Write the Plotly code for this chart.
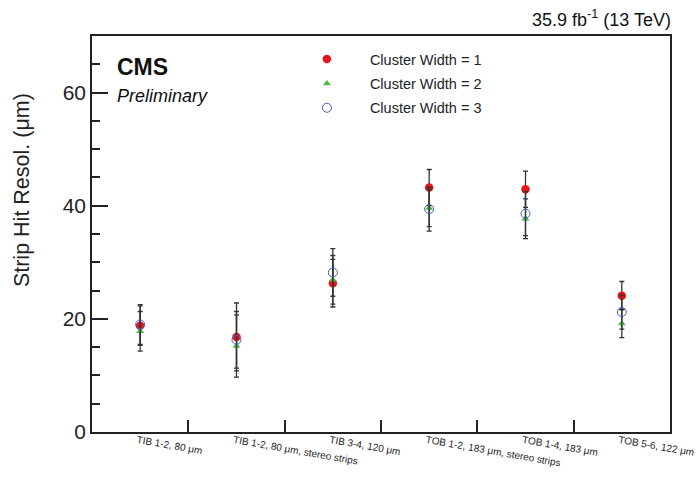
import plotly.graph_objects as go

categories = ["TIB 1-2, 80 μm", "TIB 1-2, 80 μm, stereo strips", "TIB 3-4, 120 μm",
              "TOB 1-2, 183 μm, stereo strips", "TOB 1-4, 183 μm", "TOB 5-6, 122 μm"]

cw1 = [18.8, 16.8, 26.3, 43.2, 42.9, 24.1]
cw1_err = [3.5, 6.0, 4.2, 3.2, 3.2, 2.5]
cw2 = [17.8, 15.2, 26.9, 39.6, 37.7, 19.2]
cw2_err = [3.5, 5.5, 4.3, 3.3, 3.5, 2.5]
cw3 = [19.0, 16.3, 28.2, 39.4, 38.6, 21.2]
cw3_err = [3.5, 5.0, 4.2, 3.9, 3.9, 3.0]

names = ["Cluster Width = 1", "Cluster Width = 2", "Cluster Width = 3"]

FONT = "Liberation Sans, Arial, Helvetica, sans-serif"
xs = list(range(len(categories)))

fig = go.Figure()
styles = [
    dict(symbol="circle", size=8.5, color="#e8141c", line=dict(width=0)),
    dict(symbol="triangle-up", size=7, color="#4cb847", line=dict(width=0)),
    dict(symbol="circle-open", size=9, color="#3d5fc2", line=dict(width=1, color="#3d5fc2")),
]
for i, (vals, errs, nm) in enumerate(zip([cw1, cw2, cw3], [cw1_err, cw2_err, cw3_err], names)):
    fig.add_trace(go.Scatter(
        x=xs, y=vals, mode="markers", name=nm, legendgroup=f"g{i}",
        marker=styles[i],
        error_y=dict(type="data", array=errs, visible=True, color="#333333",
                     thickness=1.3, width=2.5),
    ))

fig.update_layout(
    width=696, height=493,
    margin=dict(l=92, r=26, t=36, b=61, autoexpand=False),
    paper_bgcolor="white", plot_bgcolor="white",
    font=dict(family=FONT, color="#222222"),
    showlegend=True,
    legend=dict(x=0.332, y=0.982, xanchor="left", yanchor="top",
                font=dict(size=14.5, family=FONT, color="#222222"),
                bgcolor="rgba(0,0,0,0)", itemwidth=76, tracegroupgap=2.5),
)

fig.update_xaxes(
    range=[-0.5, 5.5], tickmode="array", tickvals=xs, ticktext=categories,
    tickangle=10, tickfont=dict(size=10, family=FONT, color="#222222"),
    ticklabeloverflow="allow", ticklabelshift=-3, ticklabelstandoff=-3,
    showline=True, linecolor="#222222", linewidth=1.5, mirror=True,
    ticks="", showgrid=False, zeroline=False, automargin=False,
)
# second x axis for bin-boundary ticks
fig.update_layout(xaxis2=dict(
    overlaying="x", range=[-0.5, 5.5], side="bottom",
    tickmode="array", tickvals=[0.5, 1.5, 2.5, 3.5, 4.5], showticklabels=False,
    ticks="inside", ticklen=12, tickwidth=1.5, tickcolor="#222222",
    showline=False, showgrid=False, zeroline=False, anchor="y", automargin=False,
))
fig.add_trace(go.Scatter(x=[0], y=[-10], xaxis="x2", mode="markers", showlegend=False,
                         hoverinfo="skip", marker=dict(opacity=0)))

fig.update_yaxes(
    range=[0, 70], tickmode="array", tickvals=[0, 20, 40, 60],
    ticks="inside", ticklen=16, tickwidth=1.5, tickcolor="#222222",
    tickfont=dict(size=21, family=FONT, color="#222222"),
    minor=dict(dtick=5, ticks="inside", ticklen=8, tickwidth=1.5, tickcolor="#222222", showgrid=False),
    showline=True, linecolor="#222222", linewidth=1.5, mirror=True,
    showgrid=False, zeroline=False, automargin=False,
)

fig.add_annotation(x=-0.121, y=0.611, xref="paper", yref="paper", xanchor="center", yanchor="middle",
                   text="Strip Hit Resol. (μm)", textangle=-90, showarrow=False,
                   font=dict(size=21.5, family=FONT, color="#222222"))
fig.add_annotation(x=0.04, y=0.96, xref="paper", yref="paper", xanchor="left", yanchor="top",
                   text="<b>CMS</b>", showarrow=False, font=dict(size=23, family=FONT, color="#111111"))
fig.add_annotation(x=0.04, y=0.88, xref="paper", yref="paper", xanchor="left", yanchor="top",
                   text="<i>Preliminary</i>", showarrow=False, font=dict(size=18, family=FONT, color="#111111"))
fig.add_annotation(x=1.005, y=1.0, xref="paper", yref="paper", xanchor="right", yanchor="bottom",
                   yshift=4, text="35.9 fb<sup>-1</sup> (13 TeV)", showarrow=False,
                   font=dict(size=18, family=FONT, color="#111111"))

fig.write_html("out.html", config={"displayModeBar": False},
               post_script="document.body.style.margin='0';document.body.style.overflow='hidden';")
